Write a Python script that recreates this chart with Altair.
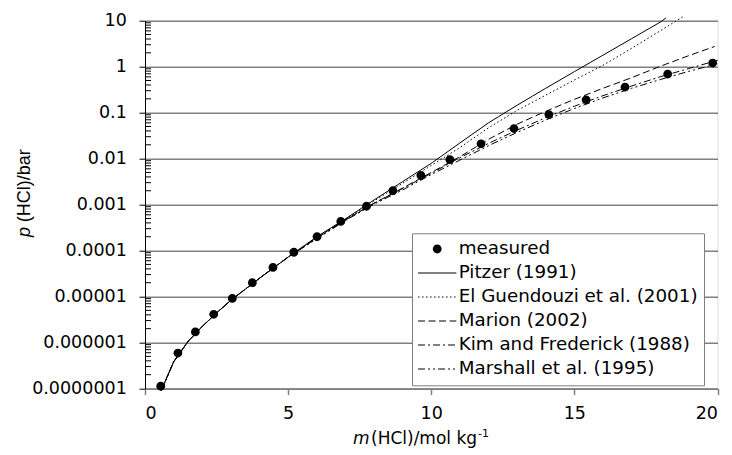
import altair as alt
import pandas as pd

# ---------------- data ----------------
series_names = ["measured", "Pitzer (1991)", "El Guendouzi et al. (2001)",
                "Marion (2002)", "Kim and Frederick (1988)", "Marshall et al. (1995)"]

meas_m = [0.55, 1.15, 1.76, 2.40, 3.05, 3.75, 4.47, 5.20, 6.01, 6.84, 7.74,
          8.66, 9.64, 10.65, 11.74, 12.89, 14.11, 15.41, 16.77, 18.26, 19.83]
meas_p = [1.12e-7, 5.9e-7, 1.7e-6, 4.1e-6, 9.1e-6, 2.0e-5, 4.3e-5, 9.2e-5, 2.0e-4,
          4.3e-4, 9.2e-4, 2.0e-3, 4.3e-3, 9.5e-3, 0.021, 0.045, 0.091, 0.19,
          0.36, 0.69, 1.2]

low_m = [0.57, 1.0, 1.5, 2.0, 2.5, 3.0, 4.0, 5.0]
low_p = [9.1e-8, 3.8e-7, 1.05e-6, 2.24e-6, 4.4e-6, 8.3e-6, 2.5e-5, 7.2e-5]

pitzer_m = [6, 7, 8, 9, 10, 11, 12, 13, 14, 15, 16, 17, 18, 18.2]
pitzer_p = [2.0e-4, 4.9e-4, 1.26e-3, 3.16e-3, 7.9e-3, 0.0219, 0.060, 0.145,
            0.339, 0.78, 1.78, 4.07, 9.3, 11.5]

elg_m = [6, 7, 8, 9, 10, 11, 12, 13, 14, 15, 16, 17, 18, 18.8]
elg_p = [1.9e-4, 4.8e-4, 1.2e-3, 2.9e-3, 7.1e-3, 0.0174, 0.0468, 0.112,
         0.240, 0.513, 1.07, 2.51, 6.03, 12.3]

marion_m = [6, 7, 8, 9, 10, 11, 12, 13, 14, 15, 16, 17, 18, 19, 19.9]
marion_p = [1.9e-4, 4.7e-4, 1.07e-3, 2.29e-3, 5.0e-3, 0.011, 0.0263, 0.0562,
            0.107, 0.195, 0.339, 0.575, 1.02, 1.74, 2.75]

kim_m = [6, 7, 8, 9, 10, 11, 12, 13, 14, 15, 16, 17, 18, 19, 20]
kim_p = [1.85e-4, 4.6e-4, 1.07e-3, 2.24e-3, 4.8e-3, 0.0105, 0.0214, 0.0417,
         0.0776, 0.138, 0.234, 0.380, 0.603, 0.912, 1.38]

marshall_m = [6, 7, 8, 9, 10, 11, 12, 13, 14, 15, 16, 17, 18, 19, 20]
marshall_p = [1.8e-4, 4.5e-4, 1.02e-3, 2.09e-3, 4.5e-3, 9.3e-3, 0.0191, 0.0372,
              0.0692, 0.123, 0.209, 0.339, 0.525, 0.794, 1.15]

x_ticks = [0, 5, 10, 15, 20]
y_ticks = [1e-7, 1e-6, 1e-5, 1e-4, 1e-3, 1e-2, 1e-1, 1, 10]
y_minor = [d * t for t in y_ticks[:-1] for d in range(2, 10)]

# ---------------- tables ----------------
meas_df = pd.DataFrame({"m": meas_m, "p": meas_p, "series": "measured"})
rows = []
for name, mm, pp in [(series_names[1], pitzer_m, pitzer_p),
                     (series_names[2], elg_m, elg_p),
                     (series_names[3], marion_m, marion_p),
                     (series_names[4], kim_m, kim_p),
                     (series_names[5], marshall_m, marshall_p)]:
    for a, b in zip(low_m + mm, low_p + pp):
        rows.append({"m": a, "p": b, "series": name})
model_df = pd.DataFrame(rows)
minor_df = pd.DataFrame({"p": y_minor})

# ---------------- styling ----------------
HFONT = "DejaVu Sans"
TFONT = "Liberation Sans"
GRID = "#808080"
SYM = 1467                       # legend symbol size -> 38.3 px wide box
UNIT = 2.0 / SYM ** 0.5          # path units per pixel

dash_range = [[1, 0], [40, 0], [1.5, 2.5], [7, 3.5], [7, 3, 2, 3], [7, 3, 2, 3, 2, 3]]


def dash_symbol(pattern):
    """Legend glyph: a 1px-high line drawn as filled pieces following a dash pattern."""
    h = 0.5 * UNIT
    pos, i, parts = -1.0, 0, []
    while pos < 1.0 - 1e-6:
        length = min(pattern[i % len(pattern)] * UNIT, 1.0 - pos)
        if i % 2 == 0:
            parts.append(f"M{pos:.3f},{-h:.3f}H{pos + length:.3f}V{h:.3f}H{pos:.3f}Z")
        pos += length
        i += 1
    return "".join(parts)


dot_path = "M-0.23,0A0.23,0.23 0 1,0 0.23,0A0.23,0.23 0 1,0 -0.23,0Z"
shape_range = [dot_path] + [dash_symbol(p) for p in dash_range[1:]]

legend = alt.Legend(
    title=None, orient="none", legendX=267, legendY=212.6,
    padding=5.7, rowPadding=4, clipHeight=20, symbolSize=SYM,
    symbolOffset=0, labelOffset=2, labelLimit=500,
    labelFont=HFONT, labelFontSize=18.3, labelColor="black",
    symbolStrokeColor="black", symbolFillColor="black", symbolStrokeWidth=0,
    strokeColor=GRID, fillColor="white", cornerRadius=0,
)

xenc = alt.X("m:Q", scale=alt.Scale(domain=[0, 20], nice=False, zero=False),
             axis=alt.Axis(values=x_ticks, title=None, grid=False, format="d",
                           domainColor=GRID, domainWidth=1.5, tickColor=GRID,
                           tickWidth=1.5, tickSize=6, labelPadding=10,
                           labelFont=HFONT, labelFontSize=17.5, labelColor="black"))
yenc = alt.Y("p:Q", scale=alt.Scale(type="log", domain=[1e-7, 10], nice=False),
             axis=alt.Axis(values=y_ticks, title=None, format=".7~f", grid=True,
                           gridColor=GRID, gridWidth=1.5, domainColor="black",
                           domainWidth=1, tickColor="black", tickWidth=1,
                           tickSize=6, labelPadding=12.7, labelFont=HFONT,
                           labelFontSize=17.5, labelColor="black"))

lines = alt.Chart(model_df).mark_line(color="black", strokeWidth=1, clip=False).encode(
    x=xenc, y=yenc,
    strokeDash=alt.StrokeDash("series:N",
                              scale=alt.Scale(domain=series_names, range=dash_range),
                              legend=legend),
    order="m:Q",
)

points = alt.Chart(meas_df).mark_point(filled=True, fill="black", stroke="black",
                                       strokeWidth=0, size=SYM, opacity=1).encode(
    x=xenc, y=yenc,
    shape=alt.Shape("series:N",
                    scale=alt.Scale(domain=series_names, range=shape_range),
                    legend=legend),
)

minor = alt.Chart(minor_df).mark_rule(color="black", strokeWidth=1).encode(
    y="p:Q", x=alt.value(0), x2=alt.value(6))

one = pd.DataFrame({"a": [0]})
xt_m = alt.Chart(one).mark_text(text="m", font=HFONT, fontSize=17, fontStyle="italic",
                                align="left", baseline="alphabetic", color="black").encode(
    x=alt.value(208), y=alt.value(423.5))
xt_rest = alt.Chart(one).mark_text(text="(HCl)/mol kg", font=HFONT, fontSize=17,
                                   align="left", baseline="alphabetic", color="black").encode(
    x=alt.value(226), y=alt.value(423.5))
xt_sup = alt.Chart(one).mark_text(text="-1", font=HFONT, fontSize=11,
                                  align="left", baseline="alphabetic", color="black").encode(
    x=alt.value(333), y=alt.value(416))
yt_p = alt.Chart(one).mark_text(text="p", font=TFONT, fontSize=18, fontStyle="italic",
                                angle=270, align="left", baseline="alphabetic",
                                color="black").encode(
    x=alt.value(-115), y=alt.value(216.3))
yt_rest = alt.Chart(one).mark_text(text="(HCl)/bar", font=TFONT, fontSize=18,
                                   angle=270, align="left", baseline="alphabetic",
                                   color="black").encode(
    x=alt.value(-115), y=alt.value(201.5))

chart = alt.layer(minor, lines, points, xt_m, xt_rest, xt_sup, yt_p, yt_rest).properties(
    width=572.5, height=367.8,
    autosize=alt.AutoSizeParams(type="none"),
    padding={"left": 137, "top": 12.7, "right": 6, "bottom": 60},
).configure_view(stroke=GRID, strokeWidth=1.5).configure(background="white")

chart.save("out.html", embed_options={"renderer": "svg", "actions": False})
